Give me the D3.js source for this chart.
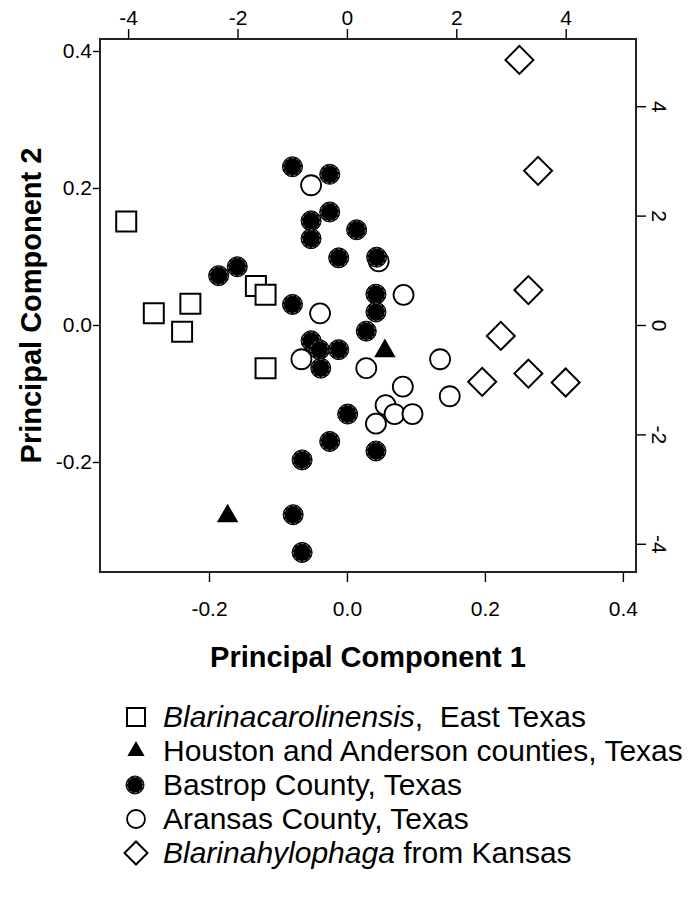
<!DOCTYPE html>
<html>
<head>
<meta charset="utf-8">
<script src="https://cdn.jsdelivr.net/npm/d3@7"></script>
<style>
body { margin: 0; background: #fff; }
svg text { font-family: "Liberation Sans", Arial, sans-serif; fill: #000; }
.tick line { stroke: #000; stroke-width: 1.4; }
</style>
</head>
<body>
<div id="chart"></div>
<script>
// values, [PC1, PC2]
var carolinensis = [[-0.320, 0.151], [-0.132, 0.057], [-0.118, 0.044], [-0.227, 0.031],
	[-0.280, 0.017], [-0.239, -0.010], [-0.118, -0.063]]
var houston = [[0.055, -0.038], [-0.173, -0.279]]
var aransas = [[-0.052, 0.204], [-0.039, 0.017], [0.082, 0.044], [-0.066, -0.050],
	[0.028, -0.063], [0.135, -0.050], [0.081, -0.090], [0.149, -0.104], [0.056, -0.117],
	[0.069, -0.130], [0.095, -0.130], [0.042, -0.144], [0.046, 0.093]]
var bastrop = [[-0.079, 0.231], [-0.025, 0.220], [-0.025, 0.165], [-0.052, 0.152],
	[-0.052, 0.126], [0.014, 0.139], [-0.012, 0.098], [0.043, 0.099], [-0.186, 0.072],
	[-0.159, 0.085], [0.042, 0.045], [0.042, 0.019], [-0.079, 0.030], [0.028, -0.009],
	[-0.052, -0.023], [-0.040, -0.036], [-0.012, -0.036], [-0.038, -0.063], [0.001, -0.130],
	[-0.025, -0.170], [0.042, -0.184], [-0.065, -0.197], [-0.078, -0.277], [-0.065, -0.332]]
var hylophaga = [[0.250, 0.387], [0.277, 0.225], [0.263, 0.051], [0.223, -0.016],
	[0.263, -0.071], [0.317, -0.084], [0.196, -0.083]]

var pcTicks = [-0.2, 0.0, 0.2, 0.4]
var scoreTicks = [-4, -2, 0, 2, 4]

var legendItems = ["carolinensis", "houston", "bastrop", "aransas", "hylophaga"]

//--------------------------------------------------
// area del grafico
//--------------------------------------------------
var margin = {left: 100, top: 39},
	width = 536,
	height = 533

var svg = d3.select("#chart").append("svg")
	.attr("width", 697)
	.attr("height", 902)

var g = svg.append("g")
	.attr("transform", "translate(" + margin.left + "," + margin.top + ")")

var x = d3.scaleLinear().domain([-0.358, 0.419]).range([0, width])
var y = d3.scaleLinear().domain([-0.3606, 0.4175]).range([height, 0])
var xTop = d3.scaleLinear().domain([-4.514, 5.285]).range([0, width])
var yRight = d3.scaleLinear().domain([-4.516, 5.229]).range([height, 0])

var fmt1 = function(d) { return d.toFixed(1) }
var fmt0 = function(d) { return String(d) }

var axB = g.append("g")
	.attr("transform", "translate(0," + height + ")")
	.call(d3.axisBottom(x).tickValues(pcTicks).tickFormat(fmt1).tickSize(10).tickPadding(19))
var axL = g.append("g")
	.call(d3.axisLeft(y).tickValues(pcTicks).tickFormat(fmt1).tickSize(7).tickPadding(1))
var axT = g.append("g")
	.call(d3.axisTop(xTop).tickValues(scoreTicks).tickFormat(fmt0).tickSize(10).tickPadding(4))
var axR = g.append("g")
	.attr("transform", "translate(" + width + ",0)")
	.call(d3.axisRight(yRight).tickValues(scoreTicks).tickFormat(fmt0).tickSize(10).tickPadding(4))

;[axB, axL, axT, axR].forEach(function(a) {
	a.select(".domain").remove()
	a.selectAll("text").style("font-size", "21px")
})
axR.selectAll("text")
	.attr("x", 0)
	.attr("dy", "0.35em")
	.attr("text-anchor", "middle")
	.attr("transform", "translate(23,0) rotate(90)")

g.append("rect")
	.attr("width", width)
	.attr("height", height)
	.attr("fill", "none")
	.attr("stroke", "#222")
	.attr("stroke-width", 2)

// titoli degli assi
svg.append("text")
	.attr("x", margin.left + width / 2)
	.attr("y", 667)
	.attr("text-anchor", "middle")
	.style("font-size", "29px")
	.style("font-weight", "bold")
	.text("Principal Component 1")

svg.append("text")
	.attr("transform", "translate(41," + (margin.top + height / 2) + ") rotate(-90)")
	.attr("text-anchor", "middle")
	.style("font-size", "29px")
	.style("font-weight", "bold")
	.text("Principal Component 2")

//--------------------------------------------------
// simboli
//--------------------------------------------------
function drawSymbol(sel, kind, s) {
	// s = scala del simbolo (1 nel grafico)
	if (kind == "carolinensis") {
		sel.append("path").attr("d", d3.symbol(d3.symbolSquare, 400 * s * s)())
			.attr("fill", "#fff").attr("stroke", "#000").attr("stroke-width", 2)
	} else if (kind == "houston") {
		sel.append("path").attr("d", d3.symbol(d3.symbolTriangle, 200 * s * s)())
			.attr("fill", "#000")
	} else if (kind == "bastrop") {
		sel.append("circle").attr("r", 10 * s)
			.attr("fill", "#000").attr("stroke", "#000").attr("stroke-width", 1)
		sel.append("circle").attr("r", 10 * s - 1.2)
			.attr("fill", "none").attr("stroke", "#aaa").attr("stroke-width", 0.7)
			.attr("stroke-dasharray", "3 2")
	} else if (kind == "aransas") {
		sel.append("circle").attr("r", 10 * s)
			.attr("fill", "#fff").attr("stroke", "#000").attr("stroke-width", 1.8)
	} else {
		sel.append("path").attr("d", d3.symbol(d3.symbolSquare, 392 * s * s)())
			.attr("transform", "rotate(45)")
			.attr("fill", "#fff").attr("stroke", "#000").attr("stroke-width", 2)
	}
}

var series = [
	{kind: "aransas", data: aransas},
	{kind: "bastrop", data: bastrop},
	{kind: "carolinensis", data: carolinensis},
	{kind: "houston", data: houston},
	{kind: "hylophaga", data: hylophaga}
]

series.forEach(function(sr) {
	g.append("g").selectAll("g")
		.data(sr.data)
		.enter()
		.append("g")
		.attr("transform", function(d) { return "translate(" + x(d[0]) + "," + y(d[1]) + ")" })
		.each(function() { drawSymbol(d3.select(this), sr.kind, 1) })
})

//--------------------------------------------------
// legenda
//--------------------------------------------------
var legendLabels = {
	carolinensis: [["Blarinacarolinensis", true], [",  East Texas", false]],
	houston: [["Houston and Anderson counties, Texas", false]],
	bastrop: [["Bastrop County, Texas", false]],
	aransas: [["Aransas County, Texas", false]],
	hylophaga: [["Blarinahylophaga", true], [" from Kansas", false]]
}
var legendSize = {carolinensis: 0.9, houston: 0.8, bastrop: 0.9, aransas: 0.9, hylophaga: 0.82}
var legendX = {carolinensis: 136, houston: 136, bastrop: 135, aransas: 136, hylophaga: 136}

var legend = svg.append("g")
legendItems.forEach(function(k, i) {
	var cy = 717 + i * 34
	var sg = legend.append("g").attr("transform", "translate(" + legendX[k] + "," + cy + ")")
	drawSymbol(sg, k, legendSize[k])
	var t = legend.append("text")
		.attr("x", 163)
		.attr("y", cy + 10)
		.style("font-size", "30px")
		.style("white-space", "pre")
	legendLabels[k].forEach(function(p) {
		t.append("tspan").style("font-style", p[1] ? "italic" : "normal").text(p[0])
	})
})
</script>
</body>
</html>
